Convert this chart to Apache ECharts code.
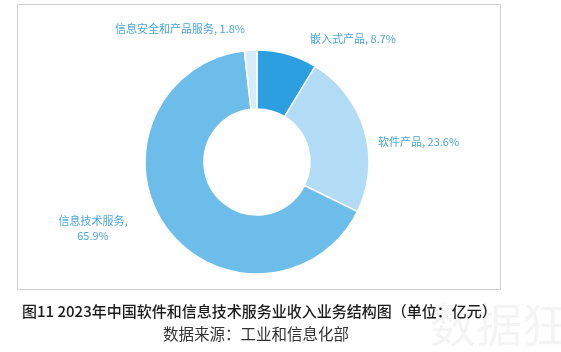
<!DOCTYPE html>
<html><head><meta charset="utf-8">
<script src="https://cdn.jsdelivr.net/npm/echarts@6/dist/echarts.min.js"></script>
<style>html,body{margin:0;padding:0;background:#fff;}#c{width:561px;height:352px;}</style>
</head><body><div id="c"></div>
<script>
const categories = ['嵌入式产品', '软件产品', '信息技术服务', '信息安全和产品服务'];
const shares = [8.7, 23.6, 65.9, 1.8];
const colors = ['#2b9fe0', '#b2dcf5', '#6dbdeb', '#d6ecf9'];
const titleText = '图11 2023年中国软件和信息技术服务业收入业务结构图（单位：亿元）';
const sourceText = '数据来源：工业和信息化部';

const labelPos = [
  {x: 310, y: 39, align: 'left'},
  {x: 378, y: 142, align: 'left'},
  {x: 93, y: 228, align: 'center'},
  {x: 115, y: 29, align: 'left'}
];

const chart = echarts.init(document.getElementById('c'), null, {renderer: 'canvas'});
chart.setOption({
  animation: false,
  backgroundColor: '#fff',
  graphic: [
    {type: 'rect', shape: {x: 17.5, y: 4.5, width: 483, height: 285}, style: {fill: 'none', stroke: '#cfcfcf', lineWidth: 1}, z: -1},
    {type: 'text', left: 430, top: 302, style: {text: '数据狂', font: '46px "Noto Sans CJK SC"', fill: '#f4f4f4'}, z: -2},
    {type: 'text', left: 22, top: 304, style: {text: titleText, font: '500 15px "Noto Sans CJK SC"', fill: '#1a1a1a'}},
    {type: 'text', left: 163, top: 326, style: {text: sourceText, font: '15.5px "Noto Sans CJK SC"', fill: '#333'}}
  ],
  series: [{
    type: 'pie',
    center: [257, 162],
    radius: [53, 112],
    startAngle: 90,
    clockwise: true,
    itemStyle: {borderColor: '#fff', borderWidth: 1.5},
    label: {
      show: true,
      position: 'outside',
      color: '#49a6dc',
      fontSize: 11,
      fontFamily: '"Noto Sans CJK SC"',
      formatter: function (p) {
        if (p.dataIndex === 2) return p.name + ',\n' + p.value + '%';
        return p.name + ', ' + p.value + '%';
      },
      lineHeight: 15
    },
    labelLine: {show: false},
    labelLayout: function (params) {
      const lp = labelPos[params.dataIndex];
      return {x: lp.x, y: lp.y, align: lp.align, verticalAlign: 'middle'};
    },
    data: categories.map((n, i) => ({name: n, value: shares[i], itemStyle: {color: colors[i]}}))
  }]
});
</script></body></html>
